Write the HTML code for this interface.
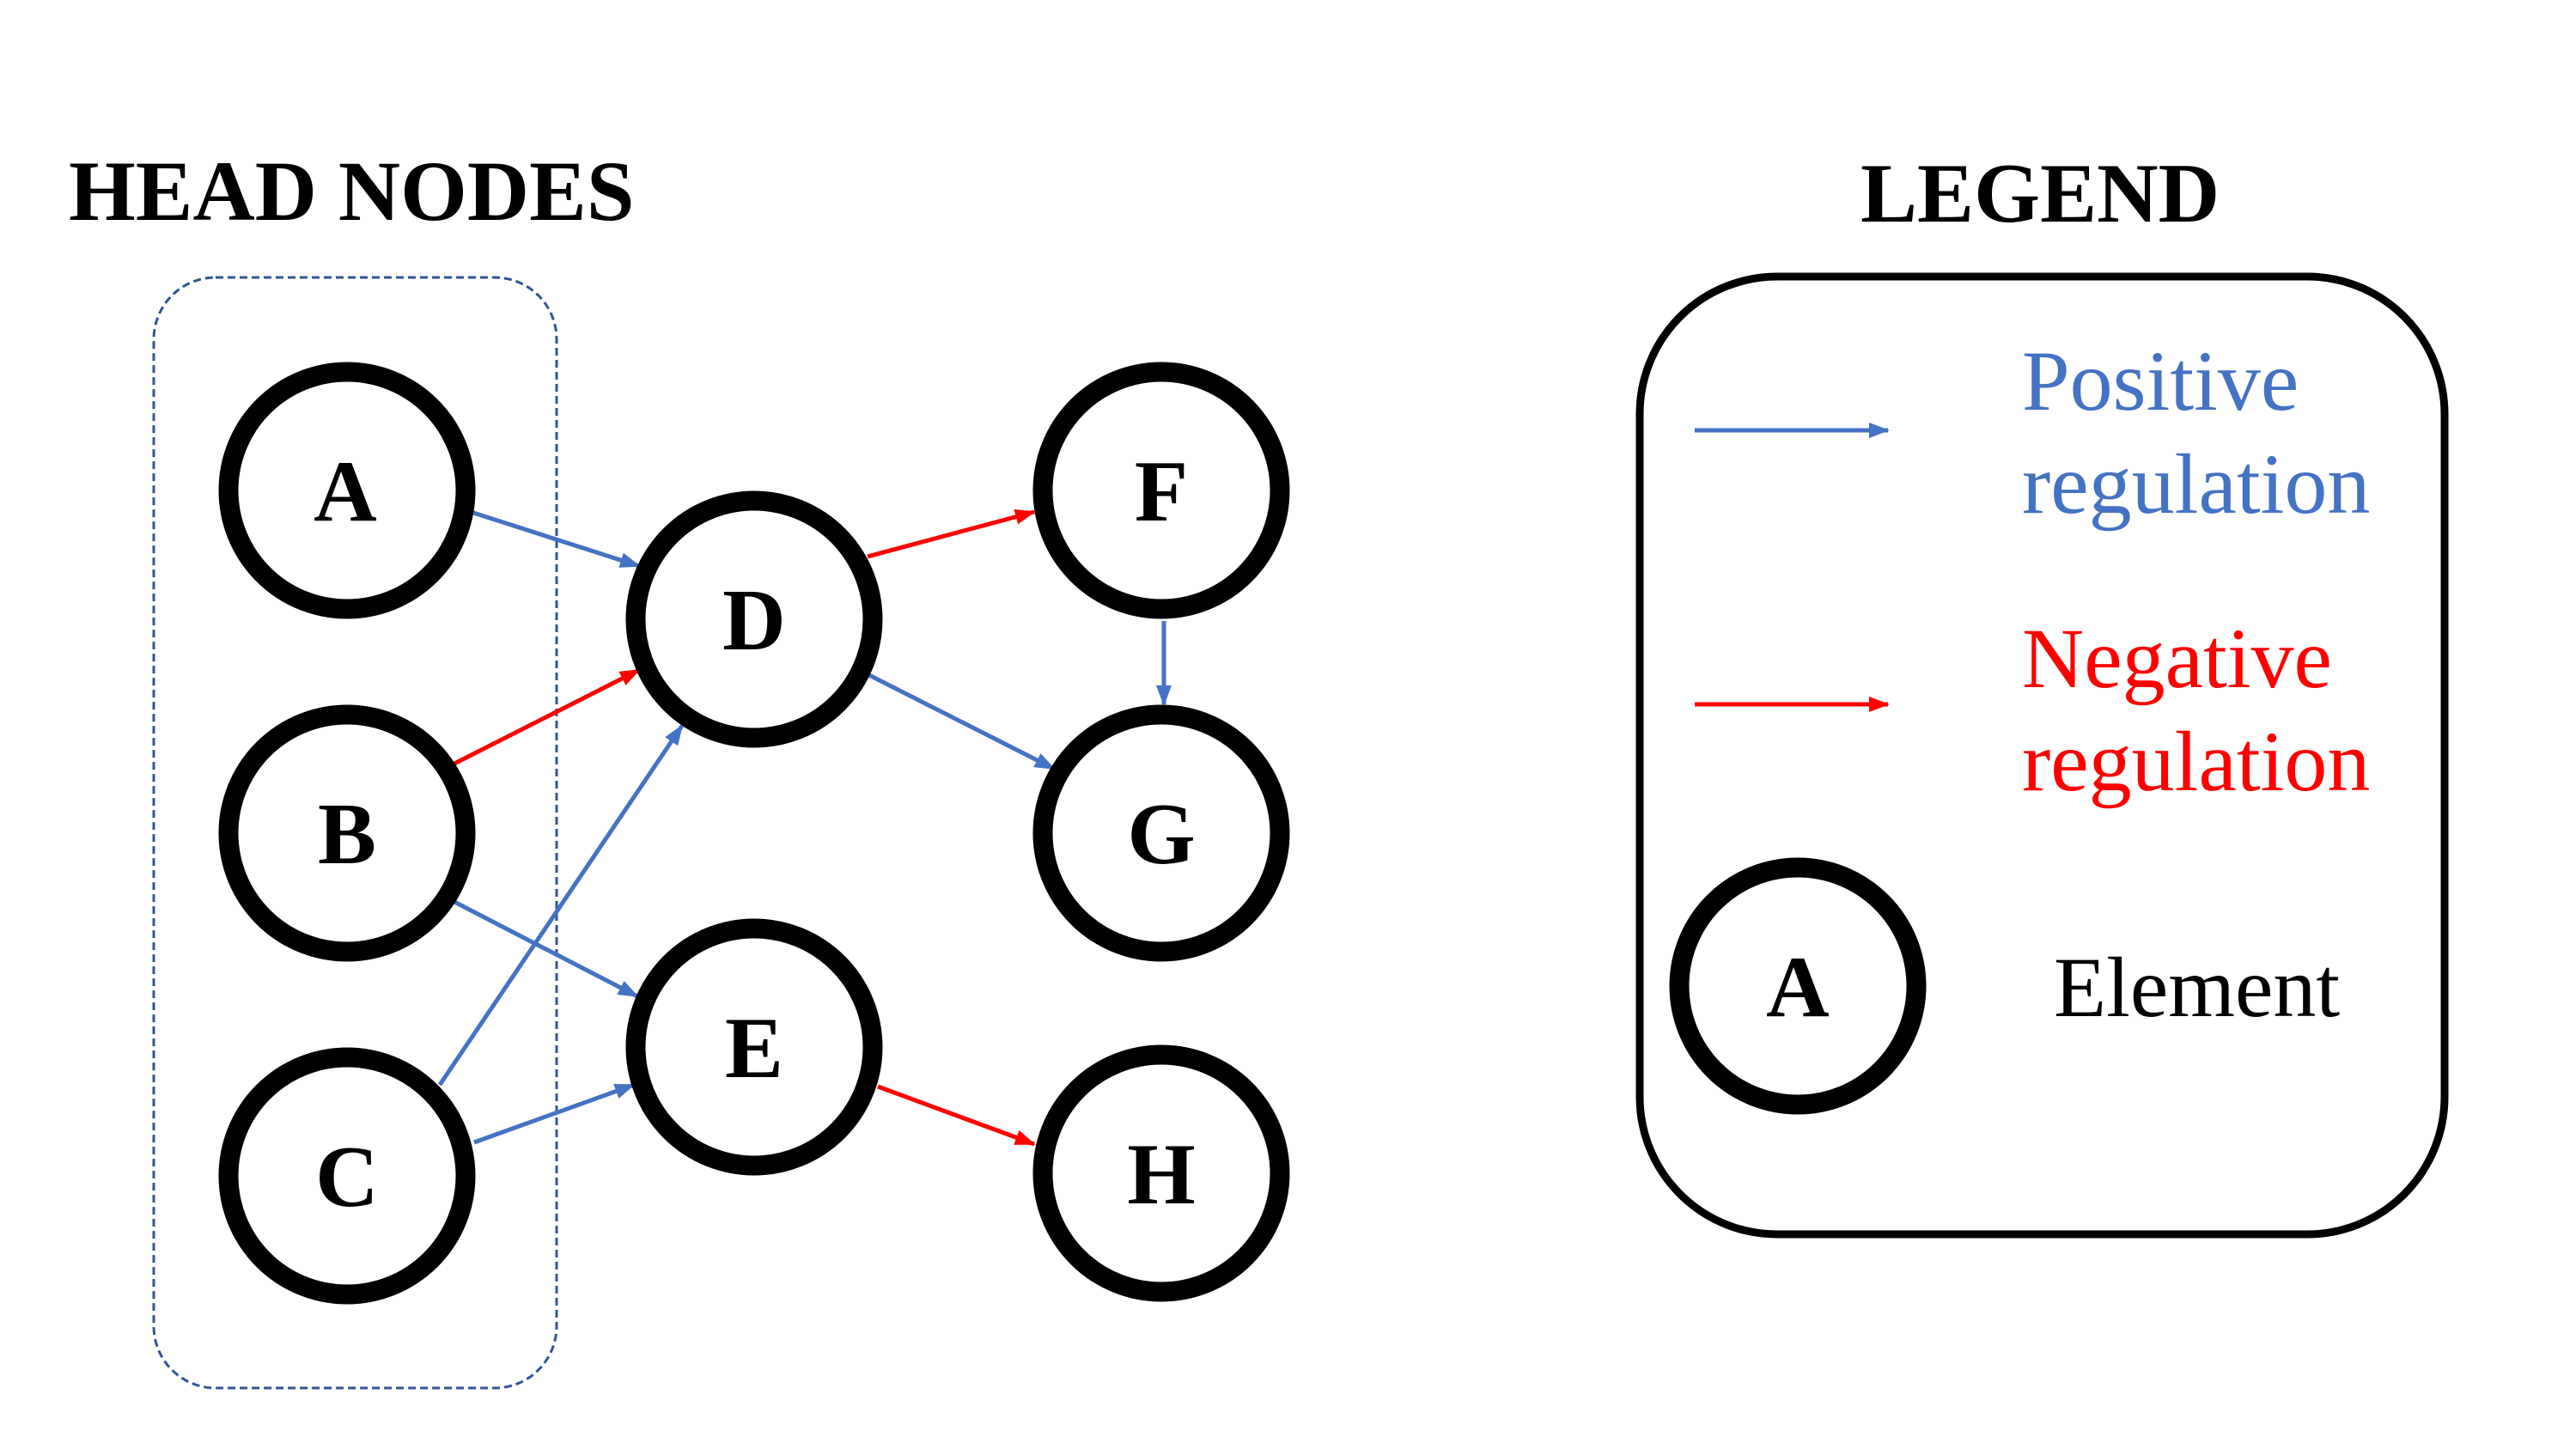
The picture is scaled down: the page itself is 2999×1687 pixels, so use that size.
<!DOCTYPE html>
<html><head><meta charset="utf-8"><style>
html,body{margin:0;padding:0;background:#fff;}
svg{display:block;}
</style></head><body>
<svg width="2999" height="1687" viewBox="0 0 2999 1687" xmlns="http://www.w3.org/2000/svg">
<defs>
<marker id="mb" markerUnits="userSpaceOnUse" markerWidth="24" markerHeight="18" refX="22" refY="9" orient="auto"><path d="M0,0 L24,9 L0,18 Z" fill="#4472C4"/></marker>
<marker id="mr" markerUnits="userSpaceOnUse" markerWidth="24" markerHeight="18" refX="22" refY="9" orient="auto"><path d="M0,0 L24,9 L0,18 Z" fill="#FF0000"/></marker>
</defs>
<g font-family="'Liberation Serif', serif" font-weight="bold" fill="#000">
<text x="80" y="256" font-size="100">HEAD NODES</text>
<text x="2166" y="258" font-size="99">LEGEND</text>
</g>
<rect x="179" y="323" width="469" height="1293" rx="72" ry="72" fill="none" stroke="#2F5597" stroke-width="3" stroke-dasharray="9,5"/>
<rect x="1909" y="322" width="937" height="1115" rx="160" ry="160" fill="none" stroke="#000" stroke-width="9"/>
<g stroke-width="5" fill="none">
<line x1="548" y1="596" x2="744" y2="659" stroke="#4472C4" marker-end="url(#mb)"/>
<line x1="529" y1="889" x2="744" y2="780" stroke="#FF0000" marker-end="url(#mr)"/>
<line x1="512" y1="1263" x2="794" y2="845" stroke="#4472C4" marker-end="url(#mb)"/>
<line x1="529" y1="1050" x2="742" y2="1160" stroke="#4472C4" marker-end="url(#mb)"/>
<line x1="552" y1="1330" x2="738" y2="1263" stroke="#4472C4" marker-end="url(#mb)"/>
<line x1="1010" y1="648" x2="1204" y2="596" stroke="#FF0000" marker-end="url(#mr)"/>
<line x1="1012" y1="786" x2="1227" y2="895" stroke="#4472C4" marker-end="url(#mb)"/>
<line x1="1355" y1="723" x2="1355" y2="820" stroke="#4472C4" marker-end="url(#mb)"/>
<line x1="1022" y1="1265" x2="1204" y2="1332" stroke="#FF0000" marker-end="url(#mr)"/>
<line x1="1973" y1="501" x2="2198" y2="501" stroke="#4472C4" marker-end="url(#mb)"/>
<line x1="1973" y1="820" x2="2198" y2="820" stroke="#FF0000" marker-end="url(#mr)"/>
</g>
<g fill="#fff" stroke="#000" stroke-width="23">
<circle cx="404" cy="571" r="138"/>
<circle cx="404" cy="970" r="138"/>
<circle cx="404" cy="1369" r="138"/>
<circle cx="878" cy="721" r="138"/>
<circle cx="878" cy="1219" r="138"/>
<circle cx="1352" cy="571" r="138"/>
<circle cx="1352" cy="970" r="138"/>
<circle cx="1352" cy="1366" r="138"/>
<circle cx="2093" cy="1148" r="138"/>
</g>
<g font-family="'Liberation Serif', serif" font-weight="bold" font-size="102" text-anchor="middle" fill="#000">
<text x="402" y="606">A</text>
<text x="404" y="1005">B</text>
<text x="404" y="1404">C</text>
<text x="878" y="756">D</text>
<text x="878" y="1254">E</text>
<text x="1352" y="606">F</text>
<text x="1352" y="1005">G</text>
<text x="1352" y="1401">H</text>
<text x="2093" y="1183">A</text>
</g>
<g font-family="'Liberation Serif', serif" font-size="100">
<text x="2354" y="477" fill="#4472C4">Positive</text>
<text x="2354" y="597" fill="#4472C4">regulation</text>
<text x="2354" y="800" fill="#FF0000">Negative</text>
<text x="2354" y="920" fill="#FF0000">regulation</text>
<text x="2391" y="1183" fill="#000">Element</text>
</g>
</svg>
</body></html>
